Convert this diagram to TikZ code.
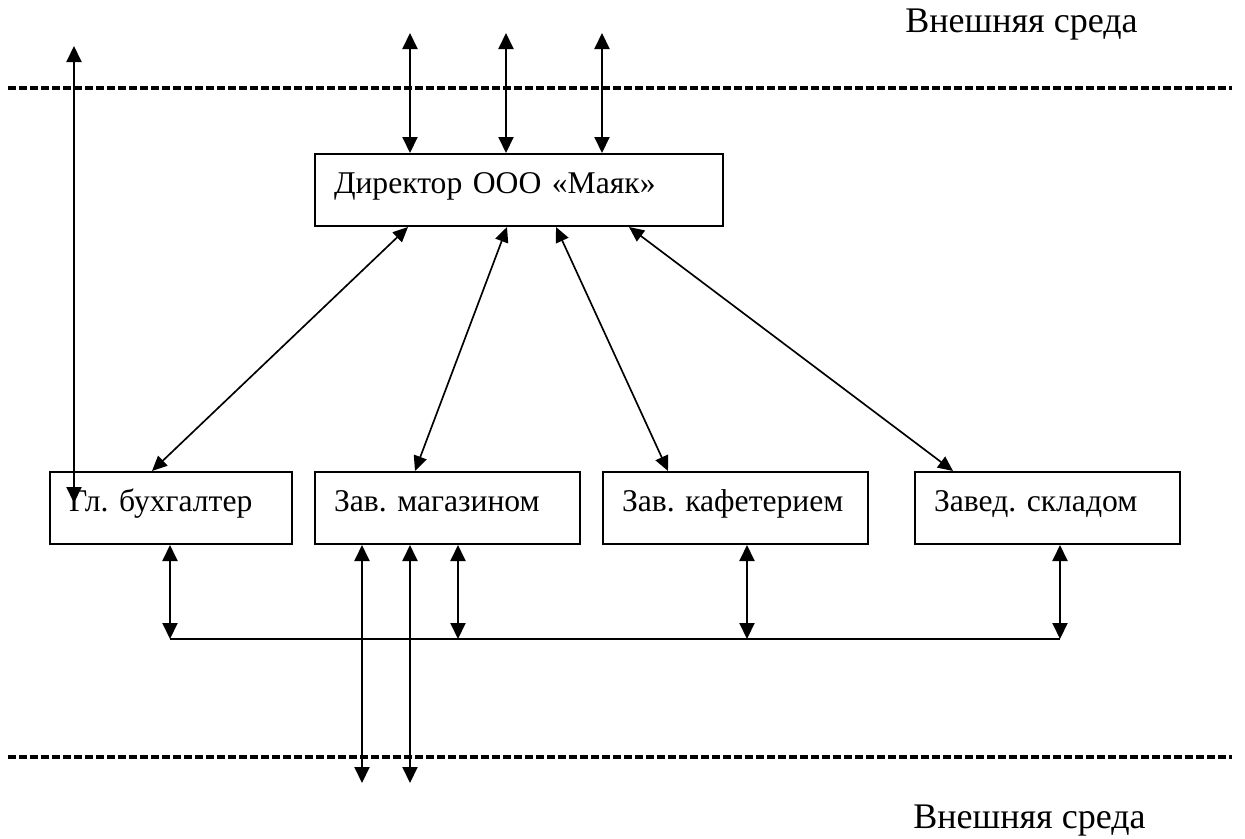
\documentclass[tikz,border=0pt]{standalone}
\usepackage{fontspec}
\setmainfont{Liberation Serif}
\usetikzlibrary{arrows.meta}
\begin{document}
\frenchspacing
\begin{tikzpicture}[x=0.02cm,y=-0.02cm,
  every node/.style={font=\fontsize{18pt}{22pt}\selectfont},
  boxnode/.style={draw, line width=1.15pt, rectangle, anchor=north west,
    minimum height=1.44cm, inner xsep=0.38cm, inner ysep=0pt,
    text height=0.78em, text depth=0.4em, align=left},
  dbl/.style={line width=1.15pt, {Triangle[length=0.32cm,width=0.3cm]}-{Triangle[length=0.32cm,width=0.3cm]}},
  dbldiag/.style={line width=0.95pt, {Triangle[length=0.3cm,width=0.27cm]}-{Triangle[length=0.3cm,width=0.27cm]}},
  sep/.style={line width=2pt, dash pattern=on 0.17cm off 0.05cm},
  envtext/.style={anchor=base west, inner sep=0pt, font=\fontsize{20.5pt}{24pt}\selectfont}]
\useasboundingbox (0,0) rectangle (1245,839);

% separators
\coordinate (s1a) at (8,88);
\coordinate (s1b) at (1232,88);
\coordinate (s2a) at (8,757);
\coordinate (s2b) at (1232,757);
\draw[sep] (s1a) -- (s1b);
\draw[sep] (s2a) -- (s2b);

\node[envtext] (envtop) at (905,32) {Внешняя среда};
\node[envtext] (envbot) at (913,828) {Внешняя среда};

% boxes
\node[boxnode, text width={408*0.02cm-0.76cm}] (dir) at (314,153) {\mbox{Директор ООО «Маяк»}};
\node[boxnode, text width={242*0.02cm-0.76cm}] (b1) at (49,471) {\mbox{Гл. бухгалтер}};
\node[boxnode, text width={265*0.02cm-0.76cm}] (b2) at (314,471) {\mbox{Зав. магазином}};
\node[boxnode, text width={265*0.02cm-0.76cm}] (b3) at (602,471) {\mbox{Зав. кафетерием}};
\node[boxnode, text width={265*0.02cm-0.76cm}] (b4) at (914,471) {\mbox{Завед. складом}};

% top arrows from director
\coordinate (t1) at (410,33);
\coordinate (t2) at (506,33);
\coordinate (t3) at (602,33);
\draw[dbl] (t1) -- (t1 |- dir.north);
\draw[dbl] (t2) -- (t2 |- dir.north);
\draw[dbl] (t3) -- (t3 |- dir.north);

% long left arrow
\coordinate (la) at (74,46);
\coordinate (lb) at (74,503);
\draw[dbl] (la) -- (lb);

% diagonals
\draw[dbldiag] (408,0 |- dir.south) -- (152,0 |- b1.north);
\draw[dbldiag] (507,0 |- dir.south) -- (415,0 |- b2.north);
\draw[dbldiag] (556,0 |- dir.south) -- (668,0 |- b3.north);
\draw[dbldiag] (629,0 |- dir.south) -- (953,0 |- b4.north);

% bus
\coordinate (bus1) at (170,639);
\coordinate (bus2) at (458,639);
\coordinate (bus3) at (747,639);
\coordinate (bus4) at (1060,639);
\draw[line width=1.15pt] (bus1) -- (bus4);
\draw[dbl] (bus1 |- b1.south) -- (bus1);
\draw[dbl] (bus2 |- b2.south) -- (bus2);
\draw[dbl] (bus3 |- b3.south) -- (bus3);
\draw[dbl] (bus4 |- b4.south) -- (bus4);

% down to external environment
\coordinate (d1) at (362,783);
\coordinate (d2) at (410,783);
\draw[dbl] (d1 |- b2.south) -- (d1);
\draw[dbl] (d2 |- b2.south) -- (d2);
\end{tikzpicture}
\end{document}
